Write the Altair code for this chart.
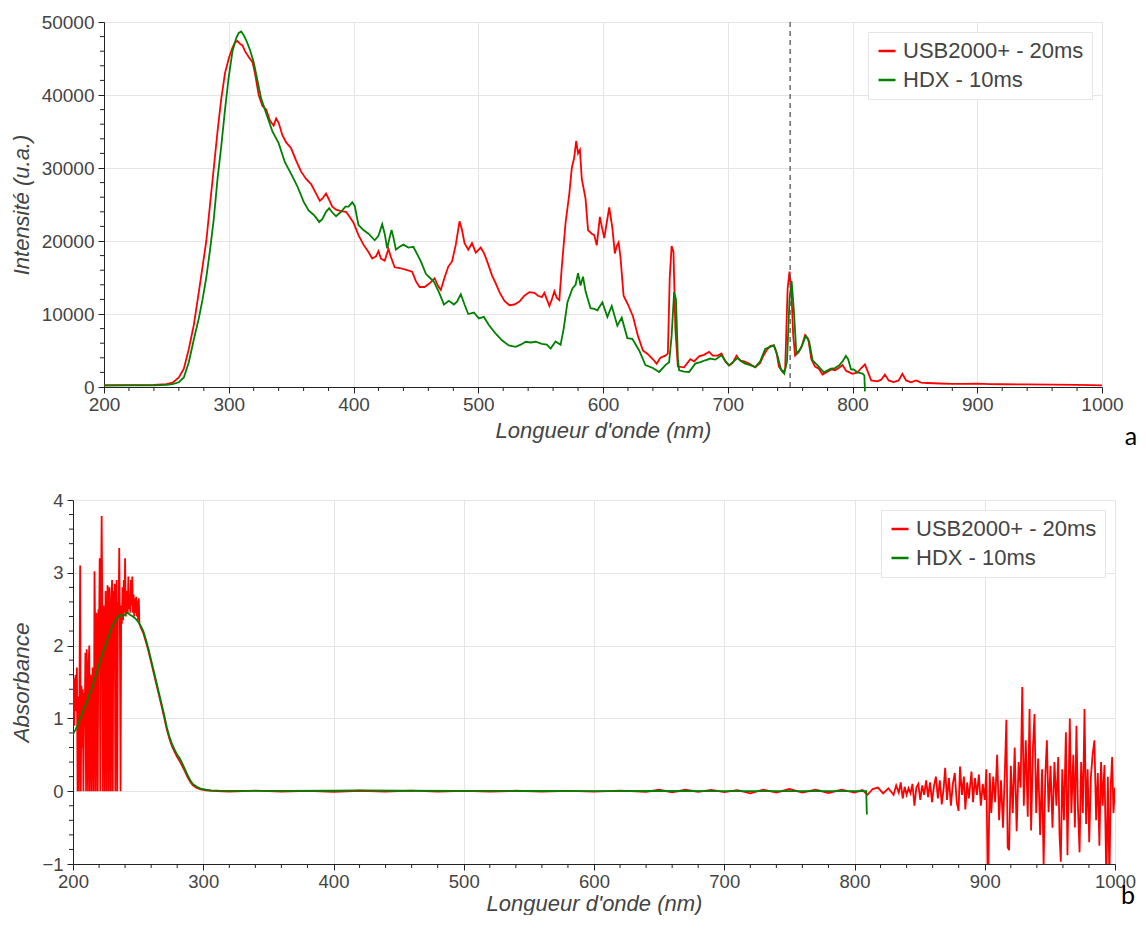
import altair as alt
import pandas as pd

RED_NAME = "USB2000+ - 20ms"
GREEN_NAME = "HDX - 10ms"

# ---------- panel a : intensity ----------
A_RED_WL = [200, 220, 240, 250, 255, 260, 264, 268, 272, 276, 279, 282, 285, 288, 291, 294, 297, 300, 303, 305,
            307, 309, 311, 313, 316, 319, 321, 324, 327, 330, 333, 336, 338, 340, 343, 346, 350, 354, 358, 362,
            366, 370, 373, 375, 378, 380, 383, 386, 390, 394, 397, 400, 404, 408, 412, 415, 418, 420, 422, 425,
            428, 430, 433, 437, 441, 447, 450, 453, 457, 461, 465, 468, 470, 473, 476, 479, 482, 485, 487, 489,
            492, 495, 498, 502, 505, 508, 511, 514, 517, 521, 525, 529, 533, 537, 541, 545, 548, 551, 553, 555,
            557, 559, 561, 563, 565, 567, 570, 573, 575, 577, 578.5, 580, 581.5, 583, 586, 588, 591, 593, 595, 597.5,
            599, 601, 603, 605, 607.5, 609.5, 611, 612.5, 614, 616.5, 620, 624, 628, 632, 636, 640, 643, 646, 650, 652,
            653.5, 655, 656.5, 658, 660, 665, 670, 673, 677, 681, 685, 688, 692, 695, 698, 701, 704, 707, 710, 713,
            717, 722, 726, 728, 731, 734, 737, 739, 741, 744, 746, 748, 749.5, 751, 752.5, 754, 757, 759.5, 762, 764.5,
            767, 770, 773, 776, 780, 783, 786, 789, 792, 795, 800, 804, 807, 810, 812, 815, 820, 823, 826, 829,
            833, 837, 840, 843, 847, 851, 855, 860, 870, 880, 890, 900, 910, 920, 940, 960, 980, 1000]
A_RED_I = [250, 260, 300, 400, 600, 1300, 2500, 5200, 8500, 13000, 16500, 20000, 25000, 30000, 35000, 39500, 43000, 45000, 46500, 47200,
           47400, 47000, 46800, 46000, 45200, 44500, 43000, 40000, 38500, 38000, 36500, 35800, 36800, 36200, 34500, 33500, 32700, 31000, 29500, 28500,
           27800, 26500, 25500, 25800, 26500, 25800, 24700, 24300, 24100, 24000, 23300, 22500, 20800, 19500, 18500, 17600, 17900, 18600, 17600, 17300,
           18900, 17800, 16400, 16300, 16100, 15800, 14500, 13700, 13700, 14200, 14900, 13800, 13300, 15000, 16500, 17200, 19500, 22700, 21500, 19700,
           18800, 19700, 18400, 19100, 18200, 16800, 15300, 14200, 13000, 11800, 11200, 11300, 11700, 12500, 13000, 12900, 12500, 12300, 12900, 12000,
           11100, 12000, 13100, 12200, 11900, 16500, 22500, 26500, 30000, 31500, 33700, 32000, 32500, 28500, 25800, 21500, 21000, 20800, 19400, 23300,
           22000, 20400, 22500, 24600, 21800, 18300, 19300, 19800, 17800, 12500, 11300, 9700, 7000, 5000, 4500, 3800, 3200, 4000, 4300, 4600,
           15000, 19300, 18500, 8000, 2800, 2700, 3800, 3500, 4200, 4400, 4800, 4300, 4300, 4600, 3500, 2950, 3300, 4300, 3600, 3500,
           3200, 2700, 3300, 4100, 5000, 5600, 5700, 4800, 2800, 2050, 2400, 13500, 15800, 13000, 7000, 4300, 4800, 5700, 7100, 6600,
           3800, 2800, 2500, 1700, 2100, 2400, 2300, 2600, 3000, 2200, 1800, 2000, 2600, 3100, 2200, 900, 780, 1000, 1700, 900,
           680, 900, 1800, 900, 650, 900, 600, 550, 480, 430, 420, 450, 400, 380, 350, 320, 280, 230]

A_GREEN_WL = [200, 220, 240, 250, 255, 260, 264, 268, 272, 276, 279, 282, 285, 288, 291, 294, 297, 300, 303, 306,
              308, 310, 312, 314, 317, 320, 323, 326, 329, 332, 335, 340, 345, 350, 355, 360, 364, 368, 370, 372.5,
              375, 378, 380.5, 383, 386, 390, 393.5, 396, 399, 401, 404, 408, 412, 417, 420, 423, 425, 427, 429, 430.5,
              432, 434, 437, 440, 444, 448, 451, 454, 458, 461, 464.5, 468.5, 472.5, 476.5, 480.5, 483, 486, 489, 492, 496.5,
              500.5, 504.5, 508.5, 514, 519, 524.5, 530, 534, 538, 542, 546, 551, 555, 558, 562, 566, 568.5, 571.5, 575.5, 578,
              580, 582, 584, 586, 590, 593, 595.5, 599.5, 603.5, 607, 611.5, 615, 619.5, 623.5, 629, 634, 640, 645, 650, 653,
              655, 657, 658.5, 660, 661, 665, 669, 674, 678, 682, 686, 690, 695, 698, 701, 704, 708, 711, 714, 718,
              722, 726, 730, 734, 737, 740, 742.5, 745.3, 747.5, 749.5, 751.2, 753, 755, 758.6, 762.6, 765.3, 768, 772, 777, 782.7,
              786, 789.4, 792, 794.7, 796.5, 798.8, 801, 804, 808, 809.5, 810]
A_GREEN_I = [200, 210, 230, 300, 380, 650, 1300, 3400, 6500, 9400, 12000, 15000, 18800, 23000, 28500, 33000, 38000, 42500, 46000, 47800,
             48500, 48700, 48200, 47500, 46200, 44500, 42000, 39500, 38000, 36500, 35000, 33400, 30800, 29200, 27500, 25400, 24200, 23600, 23200, 22600,
             23000, 24000, 24500, 23900, 23400, 24000, 24700, 24700, 25300, 24800, 22200, 21500, 21000, 20100, 20700, 22300, 21000, 19000, 20500, 21500,
             20500, 18800, 19200, 19500, 19100, 19200, 18200, 17200, 15500, 15000, 14400, 13000, 11300, 11800, 11300, 11700, 12700, 11300, 10000, 10200,
             9400, 9600, 8500, 7300, 6400, 5700, 5500, 5800, 6200, 6100, 6200, 5900, 5800, 5260, 6250, 5800, 8000, 11600, 13500, 14000,
             15600, 13900, 15100, 13100, 10800, 10700, 10500, 11600, 9600, 11100, 8400, 9500, 6700, 6600, 5000, 3000, 2600, 2060, 3000, 3400,
             7000, 13000, 12000, 4000, 2280, 2100, 2060, 3200, 3400, 3660, 3900, 3750, 4340, 3600, 2970, 3400, 3980, 3500, 3200, 3000,
             2740, 3500, 5200, 5500, 5700, 4200, 2500, 1830, 3500, 12000, 14500, 10500, 4570, 5260, 7000, 6180, 3660, 2970, 2000, 2510,
             2600, 2970, 3500, 4250, 3800, 2420, 2400, 2000, 1830, 1600, -600]

A_DASH_X = [750]
A_LETTER = ["a"]

# ---------- panel b : absorbance ----------
B_RED_WL = [200.0, 200.5, 201.0, 201.5, 202.0, 202.5, 203.0, 203.5, 204.0, 204.5, 205.0, 205.5, 206.0, 206.5, 207.0,
            207.5, 208.0, 208.5, 209.0, 209.5, 210.0, 210.5, 211.0, 211.5, 212.0, 212.5, 213.0, 213.5, 214.0, 214.5,
            215.0, 215.5, 216.0, 216.5, 217.0, 217.5, 218.0, 218.5, 219.0, 219.5, 220.0, 220.5, 221.0, 221.5, 222.0,
            222.5, 223.0, 223.5, 224.0, 224.5, 225.0, 225.5, 226.0, 226.5, 227.0, 227.5, 228.0, 228.5, 229.0, 229.5,
            230.0, 230.5, 231.0, 231.5, 232.0, 232.5, 233.0, 233.5, 234.0, 234.5, 235.0, 235.5, 236.0, 236.5, 237.0,
            237.5, 238.0, 238.5, 239.0, 239.5, 240.0, 240.5, 241.0, 241.5, 242.0, 242.5, 243.0, 243.5, 244.0, 244.5,
            245.0, 245.5, 246.0, 246.5, 247.0, 247.5, 248.0, 248.5, 249.0, 249.5, 250.0, 250.5, 251.0, 252.0,
            254, 256, 258, 260, 262, 264, 266, 268, 270, 272, 274, 276, 278, 280, 282, 284, 286, 288, 290, 292, 295, 298, 302, 306,
            320, 340, 360, 380, 400, 420, 440, 460, 480, 500, 520, 540, 560, 580, 600, 620, 640, 650, 660, 670, 680, 690,
            700, 710, 720, 730, 740, 750, 760, 770, 780, 790, 800, 806, 810, 814, 818, 822, 826, 830,
            832, 834, 835.5, 837, 838.5, 840, 841.5, 843, 844.5, 846, 847.5, 849, 850.5, 852, 853.5, 855, 856.5, 858,
            859.5, 861, 862.5, 864, 865.5, 867, 868.5, 869.6, 871, 872.5, 874, 875.5, 877, 878.5, 879.9, 881, 882.5,
            884, 885.1, 886.5, 887.8, 889.8, 891, 892.5, 894, 895.5, 897, 898.5, 900, 901.2, 902.5, 903.8, 905, 906.5,
            908, 909.5, 911, 912.5, 914, 915.5, 916.6, 917.6, 918.7, 920, 921.5, 923, 924.5, 926, 927.5, 928.8, 930,
            931.5, 933, 934.4, 935.6, 937, 938.2, 939.5, 941, 942.5, 944, 945.2, 946.5, 947.7, 949, 950.5, 952, 953.5,
            955, 956.4, 957.4, 958.4, 959.5, 960.8, 962.3, 963.5, 965.3, 966.5, 968, 969.2, 970.4, 971.5, 972.8, 974,
            975.3, 976.6, 977.8, 979, 980.2, 981.5, 982.8, 984.2, 985.5, 986.8, 988, 989.3, 990.5, 991.9, 993.4, 994.5,
            995.7, 996.8, 997.8, 998.8, 1000]
B_RED_A = [1.2, 1.55, 0.9, 1.45, 1.6, 1.1, 1.7, 0.0, 1.3, 0.0, 1.5, 3.1, 0.0, 1.45, 0.6,
           1.4, 0.0, 1.35, 0.9, 1.9, 0.0, 1.95, 1.2, 0.0, 1.75, 2.0, 0.0, 1.6, 1.3, 0.0,
           1.7, 1.5, 0.0, 3.02, 2.2, 0.0, 2.45, 1.8, 0.0, 2.5, 2.2, 3.2, 0.0, 2.6, 3.78,
           2.5, 0.0, 2.55, 2.3, 0.0, 2.75, 2.2, 0.0, 2.83, 2.5, 0.0, 2.8, 2.35, 0.0, 2.6,
           2.9, 0.0, 2.75, 2.3, 2.85, 0.0, 2.5, 2.9, 0.0, 2.6, 2.4, 3.34, 2.3, 0.0, 2.55,
           2.3, 2.8, 2.35, 2.9, 2.45, 3.2, 2.4, 2.75, 2.5, 2.45, 2.95, 2.5, 2.7, 2.45, 2.9,
           2.55, 2.95, 2.45, 2.7, 2.4, 2.65, 2.45, 2.67, 2.4, 2.62, 2.35, 2.65, 2.3, 2.25,
           2.17, 2.05, 1.92, 1.77, 1.62, 1.47, 1.32, 1.17, 1.01, 0.85, 0.72, 0.62, 0.54, 0.47, 0.41, 0.34, 0.27, 0.19, 0.13, 0.08, 0.045, 0.025, 0.012, 0.006,
           -0.005, 0.008, -0.006, 0.004, -0.008, 0.006, -0.004, 0.007, -0.006, 0.005, -0.007, 0.006, -0.005, 0.004, -0.006, 0.008, -0.01, 0.02, -0.015, 0.02, -0.01, 0.018,
           -0.012, 0.015, -0.03, 0.02, -0.02, 0.03, -0.02, 0.02, -0.025, 0.02, -0.02, 0.015, -0.05, 0.03, 0.05, -0.03, 0.04, -0.05,
           0.08, -0.02, 0.12, -0.1, 0.06, -0.05, 0.04, -0.03, 0.1, -0.2, 0.05, 0.1, -0.12, 0.08, -0.05, 0.15, -0.08, 0.12,
           -0.15, 0.07, 0.2, -0.1, 0.15, -0.18, 0.05, 0.32, -0.12, 0.18, -0.2, 0.1, 0.25, -0.15, -0.27, 0.34, -0.05,
           0.2, -0.25, 0.12, -0.1, 0.27, -0.15, 0.18, -0.05, 0.23, -0.2, 0.1, -0.12, 0.3, -1.5, 0.25, -0.3, 0.2,
           -0.15, 0.5, -0.4, 0.15, -0.5, 0.3, 0.98, -0.77, -0.81, 0.35, -0.3, 0.6, -0.55, 0.4, 0.05, 1.43, -0.2,
           0.7, -0.35, 1.13, -0.54, 0.6, 1.06, -0.3, 0.45, -0.6, 0.3, -1.02, 0.2, 0.7, -0.29, 0.35, -0.5, 0.4,
           -0.2, 0.47, -0.6, -0.97, 0.3, -0.4, 0.81, -0.88, 1.0, -0.3, 0.5, -0.5, 0.9, -0.2, -0.84, 0.4,
           -0.3, 1.13, -0.45, 0.3, -0.7, 0.2, 0.5, 0.7, -0.4, 0.25, -0.75, 0.4, -0.2, 0.36, -1.3, 0.2,
           -1.2, 0.1, 0.47, -0.3, 0.05]

B_GREEN_WL = [200, 202, 204, 206, 208, 210, 212, 214, 216, 218, 220, 222, 224, 226, 228, 230, 232, 234, 236, 238,
              240, 242, 244, 246, 248, 250, 252, 254, 256, 258, 260, 262, 264, 266, 268, 270, 272, 274, 276, 278,
              280, 282, 284, 286, 288, 290, 292, 295, 298, 302, 306, 312, 330, 360, 400, 420, 450, 500, 550, 600,
              650, 700, 750, 800, 809, 809.5]
B_GREEN_A = [0.78, 0.85, 0.93, 1.02, 1.12, 1.2, 1.3, 1.39, 1.5, 1.62, 1.74, 1.85, 1.96, 2.06, 2.16, 2.26, 2.33, 2.38, 2.42, 2.40,
             2.43, 2.45, 2.42, 2.40, 2.37, 2.33, 2.27, 2.2, 2.08, 1.95, 1.8, 1.65, 1.5, 1.35, 1.2, 1.05, 0.88, 0.75, 0.65, 0.57,
             0.5, 0.45, 0.38, 0.3, 0.22, 0.15, 0.1, 0.06, 0.035, 0.02, 0.012, 0.008, 0.005, 0.004, 0.006, 0.01, 0.006, 0.004, 0.003, 0.002,
             0.003, 0.002, 0.002, 0.002, 0.002, -0.32]
B_LETTER = ["b"]

# ---------- axis tick lists ----------
X_MAJOR = [200, 300, 400, 500, 600, 700, 800, 900, 1000]
X_MINOR = [v for v in range(200, 1001, 20) if v % 100 != 0]
A_Y_MAJOR = [0, 10000, 20000, 30000, 40000, 50000]
A_Y_MINOR = [v for v in range(0, 50001, 2000) if v % 10000 != 0]
B_Y_MAJOR = [-1, 0, 1, 2, 3, 4]
B_Y_MINOR = [round(-1 + 0.2 * i, 1) for i in range(26) if i % 5 != 0]

COLORS = ["#ff0000", "#008000"]
FONT = "Liberation Sans"
AXIS_COLOR = "#222"


def frame(wl, val, name):
    return pd.DataFrame({"wl": wl, "val": val, "serie": name})


def make_axis(values, title, lab_fs, lab_pad, title_pad, title_fs, offset=0):
    return alt.Axis(
        values=values, title=title, format="d",
        tickSize=6, labelFontSize=lab_fs, labelPadding=lab_pad,
        titlePadding=title_pad, titleFontSize=title_fs,
        labelFlush=False, labelOverlap=False, offset=offset,
    )


def legend():
    return alt.Legend(
        orient="top-right", title=None, offset=10, padding=8,
        strokeColor="#e5e5e5", fillColor="white",
        labelFontSize=22, labelFont=FONT, labelColor="#444", labelLimit=400,
        symbolType="stroke", symbolStrokeWidth=2.5, symbolSize=290,
        rowPadding=7, labelOffset=5,
    )


def build_panel(red_df, green_df, xrange, ydom, xaxis, yaxis, clip, x_left, plot_h, minor_y, extra):
    x = alt.X("wl:Q", scale=alt.Scale(domain=[200, 1000], nice=False, zero=False, range=xrange), axis=xaxis)
    y = alt.Y("val:Q", scale=alt.Scale(domain=ydom, nice=False, zero=False), axis=yaxis)
    color = alt.Color("serie:N", scale=alt.Scale(domain=[RED_NAME, GREEN_NAME], range=COLORS), legend=legend())
    red = alt.Chart(red_df).mark_line(strokeWidth=1.8, clip=clip).encode(x=x, y=y, color=color)
    green = alt.Chart(green_df).mark_line(strokeWidth=1.8, clip=clip).encode(x=x, y=y, color=color)
    xminor = alt.Chart(pd.DataFrame({"wl": X_MINOR})).mark_rule(color=AXIS_COLOR, strokeWidth=1, clip=False).encode(
        x=x, y=alt.value(plot_h), y2=alt.value(plot_h + 4))
    yminor = alt.Chart(pd.DataFrame({"val": minor_y})).mark_rule(color=AXIS_COLOR, strokeWidth=1, clip=False).encode(
        y=y, x=alt.value(x_left - 4), x2=alt.value(x_left))
    return [red, green, xminor, yminor] + extra(x, y)


# ----- top panel (plot area shifted right inside its group so that the axis blocks line up) -----
SHIFT = 31
A_W, A_H = 998, 365


def a_extra(x, y):
    rule = alt.Chart(pd.DataFrame({"wl": A_DASH_X})).mark_rule(
        color="#555", strokeDash=[5, 4], strokeWidth=1.3).encode(x=x)
    txt = alt.Chart(pd.DataFrame({"t": A_LETTER})).mark_text(
        font="Lato", fontSize=25, color="black", align="center", baseline="alphabetic"
    ).encode(x=alt.value(SHIFT + A_W + 29), y=alt.value(A_H + 58), text="t:N")
    return [rule, txt]


top_layers = build_panel(
    frame(A_RED_WL, A_RED_I, RED_NAME), frame(A_GREEN_WL, A_GREEN_I, GREEN_NAME),
    [SHIFT, SHIFT + A_W], [0, 50000],
    make_axis(X_MAJOR, "Longueur d'onde (nm)", 19, 2, 6, 22),
    make_axis(A_Y_MAJOR, "Intensité (u.a.)", 19, 4, 8, 22, offset=-SHIFT),
    False, SHIFT, A_H, A_Y_MINOR, a_extra,
)
top = alt.layer(*top_layers).properties(width=SHIFT + A_W, height=A_H)

# ----- bottom panel -----
B_W, B_H = 1042, 364


def b_extra(x, y):
    txt = alt.Chart(pd.DataFrame({"t": B_LETTER})).mark_text(
        font="Lato", fontSize=25, color="black", align="right", baseline="alphabetic"
    ).encode(x=alt.value(B_W + 20), y=alt.value(B_H + 40), text="t:N")
    return [txt]


bottom_layers = build_panel(
    frame(B_RED_WL, B_RED_A, RED_NAME), frame(B_GREEN_WL, B_GREEN_A, GREEN_NAME),
    [0, B_W], [-1, 4],
    make_axis(X_MAJOR, "Longueur d'onde (nm)", 18.5, 2, 3, 22),
    make_axis(B_Y_MAJOR, "Absorbance", 18.5, 4, 8, 22.5),
    True, 0, B_H, B_Y_MINOR, b_extra,
)
bottom = alt.layer(*bottom_layers).properties(width=B_W, height=B_H)

chart = (
    alt.vconcat(top, bottom, spacing=41)
    .resolve_scale(color="independent")
    .properties(padding={"left": 2, "top": 5, "right": 0, "bottom": 0})
    .configure_view(stroke=None)
    .configure_axis(
        domainColor=AXIS_COLOR, tickColor=AXIS_COLOR, gridColor="#e5e5e5", gridWidth=1,
        labelFont=FONT, titleFont=FONT, labelColor="#444", titleColor="#444",
        titleFontStyle="italic", titleFontWeight="normal",
    )
)

chart.save("out.html", embed_options={"renderer": "svg", "actions": False})
